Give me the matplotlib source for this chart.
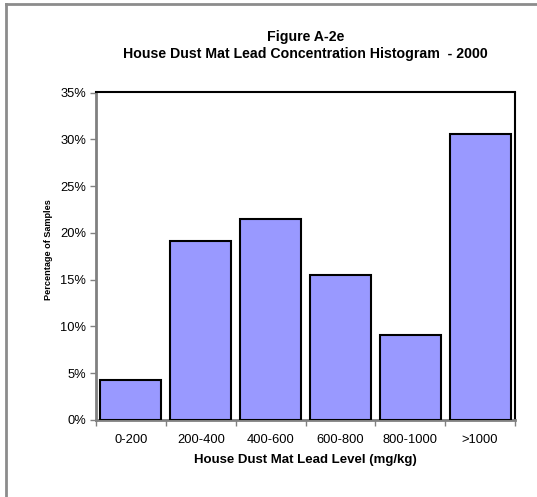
import matplotlib
matplotlib.use("Agg")
import matplotlib.pyplot as plt
from matplotlib.lines import Line2D
from matplotlib.ticker import FixedLocator, NullFormatter, PercentFormatter
import numpy as np

plt.rcParams['font.family'] = ['Liberation Sans', 'DejaVu Sans']

categories = ["0-200", "200-400", "400-600", "600-800", "800-1000", ">1000"]
percent_samples = [4.3, 19.1, 21.5, 15.5, 9.1, 30.6]
y_ticks = [0, 5, 10, 15, 20, 25, 30, 35]

W, H = 537, 497
fig = plt.figure(figsize=(W / 100, H / 100), dpi=100)
ax = fig.add_axes([96 / W, 1 - 420 / H, (515 - 96) / W, (420 - 92.5) / H])

x = np.arange(len(categories))
ax.bar(x, percent_samples, width=0.875, color="#9999FF", edgecolor="black",
       linewidth=1.5, zorder=3)

ax.set_xlim(-0.5, len(categories) - 0.5)
ax.set_ylim(0, 35)

# y axis: percent ticks, grey spine
ax.set_yticks(y_ticks)
ax.yaxis.set_major_formatter(PercentFormatter(decimals=0))
ax.tick_params(axis="y", direction="out", length=4, width=1, color="#808080",
               labelsize=9.3, pad=3)

# x axis: ticks on bin boundaries, labels centred under bars
ax.xaxis.set_major_locator(FixedLocator(np.arange(len(categories) + 1) - 0.5))
ax.xaxis.set_major_formatter(NullFormatter())
ax.xaxis.set_minor_locator(FixedLocator(x))
ax.set_xticklabels(categories, minor=True)
ax.tick_params(axis="x", which="major", direction="out", length=4, width=1,
               color="#808080")
ax.tick_params(axis="x", which="minor", length=0, labelsize=9.3, pad=10)

for side in ("left", "bottom"):
    ax.spines[side].set_color("#808080")
    ax.spines[side].set_linewidth(2)
for side in ("top", "right"):
    ax.spines[side].set_color("black")
    ax.spines[side].set_linewidth(1.5)

ax.set_xlabel("House Dust Mat Lead Level (mg/kg)", fontsize=9.5,
              fontweight="bold", labelpad=6)
ax.set_ylabel("Percentage of Samples", fontsize=6.6, fontweight="bold",
              labelpad=5)
ax.yaxis.label.set_y(0.52)

fig.text(305.5 / W, 1 - 37 / H, "Figure A-2e", ha="center", va="center",
         fontsize=10.2, fontweight="bold")
fig.text(305.5 / W, 1 - 54 / H,
         "House Dust Mat Lead Concentration Histogram  - 2000",
         ha="center", va="center", fontsize=10.2, fontweight="bold")

# chart frame (left and top edges visible)
fig.add_artist(Line2D([6 / W, 6 / W], [0, 1 - 4 / H], transform=fig.transFigure,
                      color="#8c8c8c", linewidth=2))
fig.add_artist(Line2D([6 / W, 1], [1 - 4 / H, 1 - 4 / H], transform=fig.transFigure,
                      color="#8c8c8c", linewidth=2))

fig.savefig("out.png", dpi=100)
